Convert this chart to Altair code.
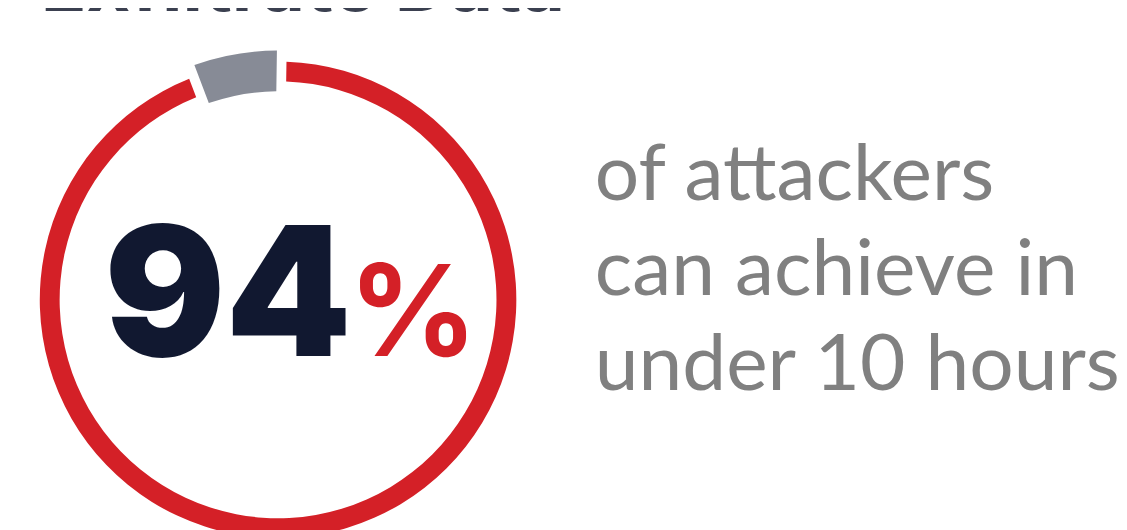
import altair as alt
import pandas as pd

# Data
categories = ["Achieve in under 10 hours", "Other"]
values = [94, 6]
big_number = "94"
pct_sign = "%"
caption_lines = ["of attackers", "can achieve in", "under 10 hours"]
heading = "Exfiltrate Data"

df = pd.DataFrame({"category": categories, "value": values, "idx": list(range(len(values)))})

RED = "#d42027"
GREY = "#878b96"
NAVY = "#111830"
CX, CY = 272, 292

base = alt.Chart(df).encode(
    theta=alt.Theta("value:Q", stack=True),
    order=alt.Order("idx:Q"),
    x=alt.value(CX),
    y=alt.value(CY),
)

red_ring = base.mark_arc(innerRadius=220, outerRadius=240, padAngle=0.03,
                         thetaOffset=0.015, theta2Offset=0.015).encode(
    fill=alt.condition(f"datum.category == '{categories[0]}'", alt.value(RED), alt.value("transparent"))
)
grey_seg = base.mark_arc(innerRadius=210, outerRadius=251, padAngle=0.03,
                         thetaOffset=0.015, theta2Offset=0.015).encode(
    fill=alt.condition(f"datum.category == '{categories[1]}'", alt.value(GREY), alt.value("transparent"))
)

one = pd.DataFrame({"a": [0]})
num_text = alt.Chart(one).mark_text(
    text=big_number, font="Inter", fontWeight=900, fontSize=181, color=NAVY,
    align="left", baseline="alphabetic"
).encode(x=alt.value(97), y=alt.value(349))

pct_text = alt.Chart(one).mark_text(
    text=pct_sign, font="Inter", fontWeight=700, fontSize=128, color=RED,
    align="left", baseline="alphabetic"
).encode(x=alt.value(343), y=alt.value(349))

cap_text = alt.Chart(one).mark_text(
    text=caption_lines, font="Lato", fontWeight=400, fontSize=79, color="#808080",
    align="left", baseline="alphabetic", lineHeight=96
).encode(x=alt.value(591), y=alt.value(191))

head_text = alt.Chart(one).mark_text(
    text=heading, font="Inter", fontWeight=700, fontSize=76, color="#3b4050",
    align="left", baseline="alphabetic"
).encode(x=alt.value(33), y=alt.value(1))

chart = alt.layer(red_ring, grey_seg, num_text, pct_text, cap_text, head_text).properties(
    width=1119, height=522,
    autosize=alt.AutoSizeParams(type="none"),
    padding=0,
    background="white",
).configure_view(strokeWidth=0)

chart.save("out.html", embed_options={"renderer": "svg", "actions": False})
